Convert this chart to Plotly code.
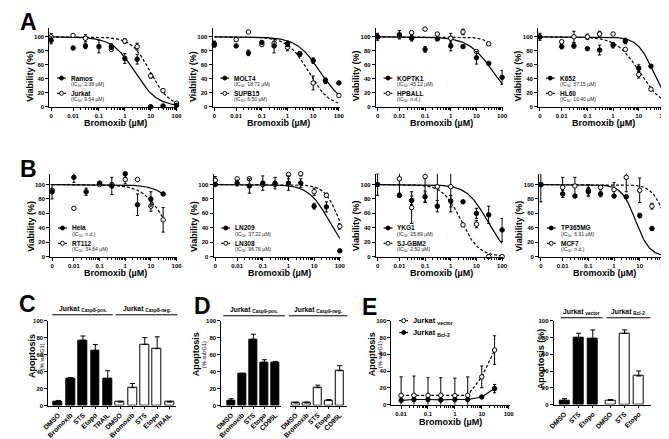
import numpy as np
import plotly.graph_objects as go

W, H = 669, 439
FONT = "Liberation Sans"

# ---------------- data ----------------
CONC = [0, 0.01, 0.03, 0.1, 0.3, 1, 3, 10, 30, 100]
CONC_TICKS = [0, 0.01, 0.1, 1, 10, 100]
CONC_TICKTEXT = ["0", "0.01", "0.1", "1", "10", "100"]

RAMOS = [95, 84, 87, 86, 86, 69, 68, 0, 1, 2]
RAMOS_SD = [5, None, 4, 9, 4, 7, 7, None, None, None]
JURKAT = [100, 102, 98, 116, 82, 94, 86, 44, 23, 5]
JURKAT_SD = [5, None, 5, None, 2, 3, 5, 3, None, None]

MOLT4 = [90, 87, 77, 92, 87, 90, 76, 66, 37, 34]
MOLT4_SD = [4, None, 4, None, 10, 4, 3, 4, 4, None]
SUPB15 = [88, 96, 107, 89, 91, 85, 75, 34, 38, 16]
SUPB15_SD = [None, None, None, None, None, 5, 3, 10, None, None]

KOPTK1 = [100, 103, 98, 82, 97, 87, 86, 70, 62, 42]
KOPTK1_SD = [5, 6, 4, 4, None, 7, None, 9, None, 10]
HPBALL = [100, 101, 106, 111, 104, 98, 107, 79, 90, None]
HPBALL_SD = [None, None, None, None, None, 7, 4, None, None, None]

K652 = [100, 86, 87, 83, 81, 88, 94, 55, 58, 52]
K652_SD = [5, 3, 3, None, 7, 4, 4, 5, None, None]
HL60 = [100, 93, 100, 100, 104, 104, 82, 46, 25, 16]
HL60_SD = [None, None, 8, 4, 4, None, None, 5, None, 3]

HELA = [90, 110, 90, 102, 98, 115, 72, 80, 87, None]
HELA_SD = [10, 7, 5, None, 12, 5, 15, 10, 2, None]
RT112 = [92, 67, 118, 100, 100, 107, 107, 70, 51, None]
RT112_SD = [None, None, None, None, None, 6, None, 7, 17, None]

LN209 = [100, 102, 98, 102, 102, 102, 102, 70, 69, 8]
LN209_SD = [None, 4, 10, 10, 8, 10, 6, 4, 7, None]
LN308 = [106, 108, 108, 100, 100, 114, 115, 90, 85, 42]
LN308_SD = [5, None, None, None, None, 6, 3, 5, 3, 4]

YKG1 = [100, 85, 78, 83, 70, 77, 76, 60, 58, 37]
YKG1_SD = [15, 3, 6, 8, 8, 8, 2, 7, 12, 16]
SJGBM2 = [116, 108, 68, 111, 97, 97, 44, 45, 0, 0]
SJGBM2_SD = [None, 23, 22, 35, 30, 35, None, 5, None, None]

TP365MG = [100, 87, 84, 90, 87, 84, 83, 57, 39, 1]
TP365MG_SD = [24, 5, None, 6, 4, 2, 2, 3, None, None]
MCF7 = [100, 96, 98, 92, 96, 93, 110, 92, 70, 70]
MCF7_SD = [None, 14, 12, 8, None, 10, 20, 17, 4, None]

FILLED_NAMES = ["Ramos", "MOLT4", "KOPTK1", "K652", "Hela", "LN209", "YKG1", "TP365MG"]
OPEN_NAMES = ["Jurkat", "SUPB15", "HPBALL", "HL60", "RT112", "LN308", "SJ-GBM2", "MCF7"]
FILLED_IC50_TEXT = ["2.38 µM", "18.72 µM", "45.12 µM", "37.15 µM", "n.d.", "37.22 µM", "25.89 µM", "6.91 µM"]
OPEN_IC50_TEXT = ["9.54 µM", "6.50 µM", "n.d.", "10.40 µM", "34.64 µM", "96.76 µM", "2.50 µM", "n.d."]
FILLED_VALUES = [RAMOS, MOLT4, KOPTK1, K652, HELA, LN209, YKG1, TP365MG]
FILLED_SD = [RAMOS_SD, MOLT4_SD, KOPTK1_SD, K652_SD, HELA_SD, LN209_SD, YKG1_SD, TP365MG_SD]
OPEN_VALUES = [JURKAT, SUPB15, HPBALL, HL60, RT112, LN308, SJGBM2, MCF7]
OPEN_SD = [JURKAT_SD, SUPB15_SD, HPBALL_SD, HL60_SD, RT112_SD, LN308_SD, SJGBM2_SD, MCF7_SD]

# fitted dose-response curve parameters (4PL, top 100, bottom 0)
FILLED_FIT_IC50 = [2.38, 18.72, 45.12, 37.15, 200, 37.22, 25.89, 6.91]
FILLED_FIT_HILL = [1.0, 0.95, 0.9, 1.4, 1.0, 1.1, 1.1, 1.6]
FILLED_FIT_END = [100, 100, 100, 100, 30, 100, 100, 100]
OPEN_FIT_IC50 = [9.54, 6.50, 150, 10.40, 34.64, 96.76, 2.50, 110]
OPEN_FIT_HILL = [1.2, 1.08, 1.5, 1.0, 1.0, 1.5, 1.25, 1.6]
OPEN_FIT_END = [100, 100, 30, 100, 30, 100, 100, 100]

C_CATEGORIES = ["DMSO", "Bromoxib", "STS", "Etopo", "TRAIL"]
C_POS = [5, 32, 77, 65, 32]
C_POS_SD = [1, 1, 5, 7, 9]
C_NEG = [4, 21, 72, 67, 4]
C_NEG_SD = [1, 5, 8, 14, 1]
C_GROUPS = ["Casp8-pos.", "Casp8-neg."]

D_CATEGORIES = ["DMSO", "Bromoxib", "STS", "Etopo", "CD95L"]
D_POS = [6, 37, 78, 51, 51]
D_POS_SD = [2, 1, 6, 3, 1]
D_NEG = [3, 3, 21, 6, 41]
D_NEG_SD = [1, 1, 3, 1, 6]
D_GROUPS = ["Casp9-pos.", "Casp9-neg."]

E_CONC = [0.01, 0.03, 0.1, 0.3, 1, 3, 10, 30]
E_VECTOR = [11, 11, 11, 11, 10.5, 11, 33, 65]
E_VECTOR_SD = [22, 23, 21, 21, 21, 22, 13, 17]
E_BCL2 = [5, 6, 6, 5.5, 6, 6, 9, 19]
E_BCL2_SD = [None, None, None, None, None, None, None, 5]
E_TICKS = [0.01, 0.1, 1, 10, 100]

E_CATEGORIES = ["DMSO", "STS", "Etopo"]
E_VEC_BARS = [5, 80, 79]
E_VEC_BARS_SD = [2, 5, 10]
E_BCL2_BARS = [5, 85, 34]
E_BCL2_BARS_SD = [1, 4, 6]
E_GROUPS = ["vector", "Bcl-2"]

# ---------------- helpers ----------------
def px(p):
    return p / W

def py(p):
    return 1 - p / H

ZERO_LOG = -2.85

def conc_pos(c):
    return c if c > 0 else 10 ** ZERO_LOG

def hill(x, ic50, h):
    return 100.0 / (1.0 + (x / ic50) ** h)

TICKFONT = dict(family=FONT, size=6, color="black", weight="bold")
fig = go.Figure()
layout = dict(width=W, height=H, margin=dict(l=0, r=0, t=0, b=0),
              paper_bgcolor="white", plot_bgcolor="rgba(0,0,0,0)",
              showlegend=False, font=dict(family=FONT, color="black"))
annotations = []
shapes = []

def ann(x, y, text, size, angle=0, xanchor="center", color="black"):
    annotations.append(dict(x=px(x), y=py(y), xref="paper", yref="paper", text=text,
                            showarrow=False, textangle=angle, xanchor=xanchor, yanchor="middle",
                            font=dict(family=FONT, size=size, color=color)))

def set_axes(i, xd, yd, xa, ya):
    sx = "" if i == 1 else str(i)
    base = dict(showline=True, linecolor="black", linewidth=1, showgrid=False, zeroline=False,
                ticks="outside", ticklen=3, tickwidth=1, tickcolor="black", tickfont=TICKFONT)
    xa2 = dict(base, domain=[px(xd[0]), px(xd[1])], anchor="y" + sx)
    xa2.update(xa)
    ya2 = dict(base, domain=[py(yd[1]), py(yd[0])], anchor="x" + sx)
    ya2.update(ya)
    layout["xaxis" + sx] = xa2
    layout["yaxis" + sx] = ya2
    return "x" + sx, "y" + sx

MINOR_LOG = [k * 10 ** e for e in range(-2, 2) for k in range(2, 10)]

def legend_entry(ax_x, y, name, sub, filled, size_name=6.5):
    dash = None if filled else "2px,1.5px"
    shapes.append(dict(type="line", xref="paper", yref="paper", x0=px(ax_x + 8), x1=px(ax_x + 17),
                       y0=py(y), y1=py(y), line=dict(color="black", width=1.2, dash=dash)))
    cx = ax_x + 12.5
    shapes.append(dict(type="circle", xref="paper", yref="paper", x0=px(cx - 2), x1=px(cx + 2),
                       y0=py(y - 2), y1=py(y + 2), fillcolor="black" if filled else "white",
                       line=dict(color="black", width=1)))
    ann(ax_x + 20, y, "<b>%s</b>" % name, size_name, xanchor="left")
    if sub is not None:
        ann(ax_x + 20, y + 6.5, "(IC<sub>50</sub>: %s)" % sub, 5, xanchor="left", color="#222")

# ---------------- dose-response panels ----------------
DR_LAYOUT = [  # x_left, x_right, y_top, y_bottom, ymax
    (32, 163, 17, 97, 113), (199, 329, 17, 97, 113), (366, 496, 17, 97, 113), (532, 662, 17, 97, 113),
    (33, 163, 165, 249, 115), (200, 330, 165, 249, 115), (366, 496, 165, 249, 115), (533, 663, 165, 249, 115),
]
tick_pos = [conc_pos(c) for c in CONC_TICKS]
xpos = [conc_pos(c) for c in CONC]

for k, (xl, xr, yt, yb, ymax) in enumerate(DR_LAYOUT):
    i = k + 1
    xr_, yr_ = set_axes(i, (xl, xr), (yt, yb),
                        dict(type="log", range=[-2.92, 2.03], tickvals=tick_pos, ticktext=CONC_TICKTEXT,
                             minor=dict(tickvals=MINOR_LOG, ticks="outside", ticklen=2, tickcolor="black")),
                        dict(range=[0, ymax], tickvals=[0, 20, 40, 60, 80, 100]))
    for ic50, hh, end, dash in [(FILLED_FIT_IC50[k], FILLED_FIT_HILL[k], FILLED_FIT_END[k], None),
                                (OPEN_FIT_IC50[k], OPEN_FIT_HILL[k], OPEN_FIT_END[k], "3px,2px")]:
        cx = np.logspace(ZERO_LOG, np.log10(end), 200)
        fig.add_trace(go.Scatter(x=cx, y=hill(cx, ic50, hh), mode="lines", xaxis=xr_, yaxis=yr_,
                                 line=dict(color="black", width=1.2, dash=dash), hoverinfo="skip"))
    for vals, sd, filled in [(OPEN_VALUES[k], OPEN_SD[k], False), (FILLED_VALUES[k], FILLED_SD[k], True)]:
        fig.add_trace(go.Scatter(x=xpos, y=vals, mode="markers", xaxis=xr_, yaxis=yr_, cliponaxis=False,
                                 marker=dict(size=4.5, color="black" if filled else "white",
                                             line=dict(color="black", width=1)),
                                 error_y=dict(type="data", array=sd, color="black", thickness=1, width=1.6)))
    ann((xl + xr) / 2 + 2, yb + 17, "<b>Bromoxib (µM)</b>", 9)
    ann(xl - 20, yb - 31, "<b>Viability (%)</b>", 9, angle=-90)
    legend_entry(xl, yb - 29, FILLED_NAMES[k], FILLED_IC50_TEXT[k], True)
    legend_entry(xl, yb - 13.5, OPEN_NAMES[k], OPEN_IC50_TEXT[k], False)

# ---------------- bar helpers ----------------
BARFONT = dict(family=FONT, size=6.8, color="black", weight="bold")

def bars(xr_, yr_, pos, vals, sd, filled, width):
    fig.add_trace(go.Bar(x=pos, y=vals, xaxis=xr_, yaxis=yr_, width=width,
                         marker=dict(color="black" if filled else "white", line=dict(color="black", width=1)),
                         error_y=dict(type="data", symmetric=False, array=sd, arrayminus=[0] * len(sd),
                                      color="black", thickness=1, width=2.5)))

def header(x0, x1, y, group):
    ann((x0 + x1) / 2, y - 6, "<b>Jurkat <sub>%s</sub></b>" % group, 6.8)
    shapes.append(dict(type="line", xref="paper", yref="paper", x0=px(x0), x1=px(x1), y0=py(y), y1=py(y),
                       line=dict(color="black", width=1)))

BAR_X = dict(tickangle=-45, tickfont=BARFONT, ticklen=2)

# ---------------- C ----------------
c_pos = list(range(len(C_CATEGORIES) * 2))
xr_, yr_ = set_axes(9, (31, 162), (314, 400),
                    dict(BAR_X, range=[-0.8, 9.55], tickvals=c_pos, ticktext=C_CATEGORIES * 2),
                    dict(range=[0, 100], tickvals=[0, 20, 40, 60, 80, 100]))
bars(xr_, yr_, c_pos[:5], C_POS, C_POS_SD, True, 0.72)
bars(xr_, yr_, c_pos[5:], C_NEG, C_NEG_SD, False, 0.72)
header(35, 97, 308, C_GROUPS[0])
header(100, 163, 308, C_GROUPS[1])
ann(15, 350, "<b>Apoptosis</b>", 9, angle=-90)
ann(24.5, 350, "(% subG1)", 5.6, angle=-90)

# ---------------- D ----------------
d_pos = list(range(len(D_CATEGORIES)))
xr_, yr_ = set_axes(10, (208, 269), (314, 400),
                    dict(BAR_X, range=[-0.9, 4.5], tickvals=d_pos, ticktext=D_CATEGORIES),
                    dict(range=[0, 100], tickvals=[0, 20, 40, 60, 80, 100]))
bars(xr_, yr_, d_pos, D_POS, D_POS_SD, True, 0.72)
xr_, yr_ = set_axes(11, (278, 337), (314, 400),
                    dict(BAR_X, range=[-0.55, 4.7], tickvals=d_pos, ticktext=D_CATEGORIES),
                    dict(range=[0, 100], visible=False))
bars(xr_, yr_, d_pos, D_NEG, D_NEG_SD, False, 0.72)
header(210, 273, 309, D_GROUPS[0])
header(277, 337, 309, D_GROUPS[1])
ann(182, 348, "<b>Apoptosis</b>", 9, angle=-90)
ann(191, 348, "(% subG1)", 5.6, angle=-90)

# ---------------- E line ----------------
xr_, yr_ = set_axes(12, (382, 503), (314, 399),
                    dict(type="log", range=[-2.36, 2.04], tickvals=E_TICKS,
                         ticktext=[str(t) for t in E_TICKS],
                         minor=dict(tickvals=MINOR_LOG, ticks="outside", ticklen=2, tickcolor="black")),
                    dict(range=[0, 100], tickvals=[0, 20, 40, 60, 80, 100]))
fig.add_trace(go.Scatter(x=E_CONC, y=E_VECTOR, mode="lines+markers", xaxis=xr_, yaxis=yr_,
                         line=dict(color="black", width=1.2, dash="3px,2px"),
                         marker=dict(size=4.5, color="white", line=dict(color="black", width=1)),
                         error_y=dict(type="data", array=E_VECTOR_SD, color="black", thickness=1, width=1.6)))
fig.add_trace(go.Scatter(x=E_CONC, y=E_BCL2, mode="lines+markers", xaxis=xr_, yaxis=yr_,
                         line=dict(color="black", width=1.2),
                         marker=dict(size=4.5, color="black", line=dict(color="black", width=1)),
                         error_y=dict(type="data", array=E_BCL2_SD, color="black", thickness=1, width=1.6)))
ann(442, 417, "<b>Bromoxib (µM)</b>", 9)
ann(362, 348, "<b>Apoptosis</b>", 9, angle=-90)
ann(371, 348, "(% subG1)", 5.6, angle=-90)
legend_entry(382, 314, "Jurkat <sub>vector</sub>", None, False, size_name=7.4)
legend_entry(382, 326, "Jurkat <sub>Bcl-2</sub>", None, True, size_name=7.4)

# ---------------- E bars ----------------
e_pos = [0, 1, 2]
e_pos2 = [p + 3.25 for p in e_pos]
xr_, yr_ = set_axes(13, (548, 648), (314, 399),
                    dict(BAR_X, range=[-0.76, 6.15], tickvals=e_pos + e_pos2, ticktext=E_CATEGORIES * 2),
                    dict(range=[0, 100], tickvals=[0, 20, 40, 60, 80, 100]))
bars(xr_, yr_, e_pos, E_VEC_BARS, E_VEC_BARS_SD, True, 0.68)
bars(xr_, yr_, e_pos2, E_BCL2_BARS, E_BCL2_BARS_SD, False, 0.68)
header(555, 598, 311, E_GROUPS[0])
header(602, 647, 311, E_GROUPS[1])
ann(535, 353, "<b>Apoptosis (%)</b>", 9, angle=-90)

# ---------------- panel letters ----------------
for letter, x, y in [("A", 11, 11), ("B", 11, 160), ("C", 10, 297), ("D", 189, 299), ("E", 360, 300)]:
    ann(x, y, "<b>%s</b>" % letter, 23)

layout["annotations"] = annotations
layout["shapes"] = shapes
layout["bargap"] = 0
fig.update_layout(**layout)
fig.write_html("out.html")
